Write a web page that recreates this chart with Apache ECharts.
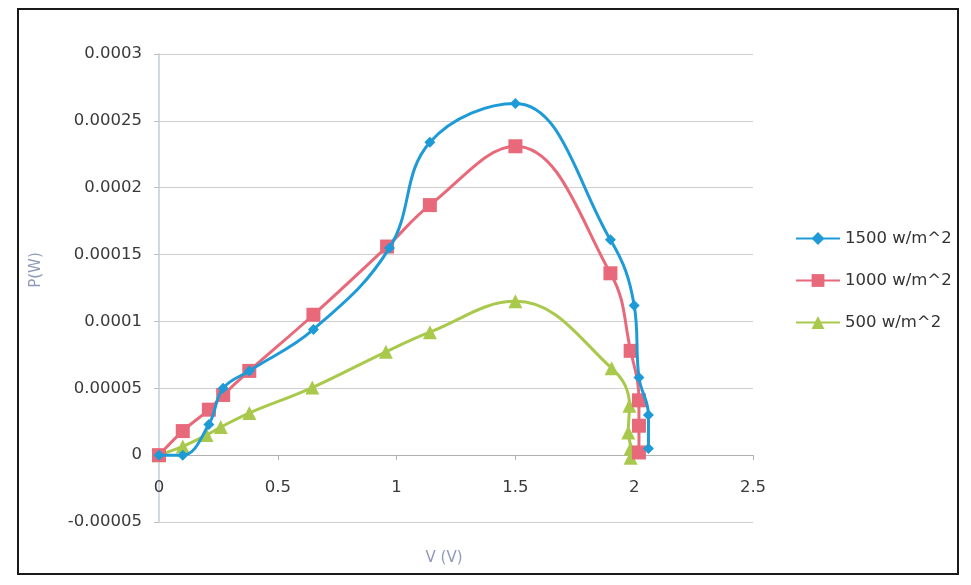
<!DOCTYPE html>
<html>
<head>
<meta charset="utf-8">
<script src="https://cdn.jsdelivr.net/npm/echarts@6/dist/echarts.min.js"></script>
<style>
html,body{margin:0;padding:0;background:#fff;}
#c{width:971px;height:585px;}
</style>
</head>
<body>
<div id="c"></div>
<script>
// ---- data ----
const seriesNames = ['1500 w/m^2', '1000 w/m^2', '500 w/m^2'];
const v1500 = [0, 0.1, 0.21, 0.27, 0.38, 0.65, 0.97, 1.14, 1.5, 1.9, 2.0, 2.02, 2.06, 2.06];
const p1500 = [0, 0, 0.000023, 0.00005, 0.000063, 0.000094, 0.000155, 0.000234, 0.000263, 0.000161, 0.000112, 0.000058, 0.00003, 0.000005];
const v1000 = [0, 0.1, 0.21, 0.27, 0.38, 0.65, 0.96, 1.14, 1.5, 1.9, 1.985, 2.02, 2.02, 2.02];
const p1000 = [0, 0.000018, 0.000034, 0.000045, 0.000063, 0.000105, 0.000156, 0.000187, 0.000231, 0.000136, 0.000078, 0.000041, 0.000022, 0.000002];
const v500 = [0, 0.1, 0.2, 0.26, 0.38, 0.645, 0.955, 1.14, 1.5, 1.905, 1.98, 1.975, 1.985, 1.985];
const p500 = [0, 0.0000065, 0.000015, 0.000021, 0.0000315, 0.0000505, 0.0000773, 0.000092, 0.000115, 0.000065, 0.000037, 0.000017, 0.000005, -0.000002];
const xTicks = [0, 0.5, 1, 1.5, 2, 2.5];
const yTicks = [-0.00005, 0, 0.00005, 0.0001, 0.00015, 0.0002, 0.00025, 0.0003];
const xTitle = 'V (V)';
const yTitle = 'P(W)';

function pairs(xs, ys) { return xs.map((x, i) => [x, ys[i]]); }

const colors = ['#1e9bd7', '#e8697a', '#a9c94c'];
const symbols = ['diamond', 'rect', 'triangle'];
const symSizes = [11, 14, 14];
const dataSets = [pairs(v1500, p1500), pairs(v1000, p1000), pairs(v500, p500)];

const gridTop = 54, gridHeight = 468;
const yMin = yTicks[0], yMax = yTicks[yTicks.length - 1];
// distance from grid bottom up to the y = 0 line
const zeroOffset = gridHeight * (0 - yMin) / (yMax - yMin);

const labelFont = 'DejaVu Sans';
const chart = echarts.init(document.getElementById('c'), null, {renderer: 'canvas'});
chart.setOption({
  backgroundColor: '#ffffff',
  animation: false,
  grid: {left: 159, top: gridTop, width: 594, height: gridHeight, containLabel: false, outerBoundsMode: 'none'},
  legend: {
    orient: 'vertical',
    left: 790, top: 225,
    itemWidth: 44, itemHeight: 16, itemGap: 25,
    textStyle: {fontFamily: labelFont, fontSize: 16.5, color: '#333'},
    data: seriesNames
  },
  xAxis: {
    type: 'value', min: xTicks[0], max: xTicks[xTicks.length - 1], interval: 0.5,
    position: 'bottom', offset: -zeroOffset,
    name: xTitle, nameLocation: 'middle', nameGap: 95,
    nameTextStyle: {fontFamily: labelFont, fontSize: 15, color: '#8e9ab8', padding: [0, 24, 0, 0]},
    axisLine: {show: true, onZero: false, lineStyle: {color: '#b0b0b0', width: 1}},
    axisTick: {show: true, length: 5, lineStyle: {color: '#b0b0b0'}},
    axisLabel: {margin: 24, fontFamily: labelFont, fontSize: 16.5, color: '#3a3a3a',
      formatter: v => String(+v.toFixed(2))},
    splitLine: {show: false}
  },
  yAxis: {
    type: 'value', min: yMin, max: yMax, interval: 0.00005,
    name: yTitle, nameLocation: 'middle', nameGap: 115, nameRotate: 90,
    nameTextStyle: {fontFamily: labelFont, fontSize: 15, color: '#8e9ab8', padding: [0, 0, 0, 36]},
    axisLine: {show: true, onZero: false, lineStyle: {color: '#c4ccd8', width: 1.5}},
    axisTick: {show: true, length: 5, lineStyle: {color: '#c0c0c0'}},
    axisLabel: {margin: 17, fontFamily: labelFont, fontSize: 16.5, color: '#3a3a3a',
      formatter: v => String(+v.toFixed(6))},
    splitLine: {show: true, lineStyle: {color: '#cfcfcf', width: 1}}
  },
  graphic: [{
    type: 'rect', silent: true, z: 100,
    shape: {x: 18, y: 9, width: 940, height: 565},
    style: {fill: 'none', stroke: '#1a1a1a', lineWidth: 2}
  }],
  series: seriesNames.map((name, i) => ({
    name: name,
    type: 'line',
    data: dataSets[i],
    smooth: 0.4,
    symbol: symbols[i],
    symbolSize: symSizes[i],
    showAllSymbol: true,
    itemStyle: {color: colors[i]},
    lineStyle: {color: colors[i], width: 3},
    z: 10 - i
  }))
});
</script>
</body>
</html>
